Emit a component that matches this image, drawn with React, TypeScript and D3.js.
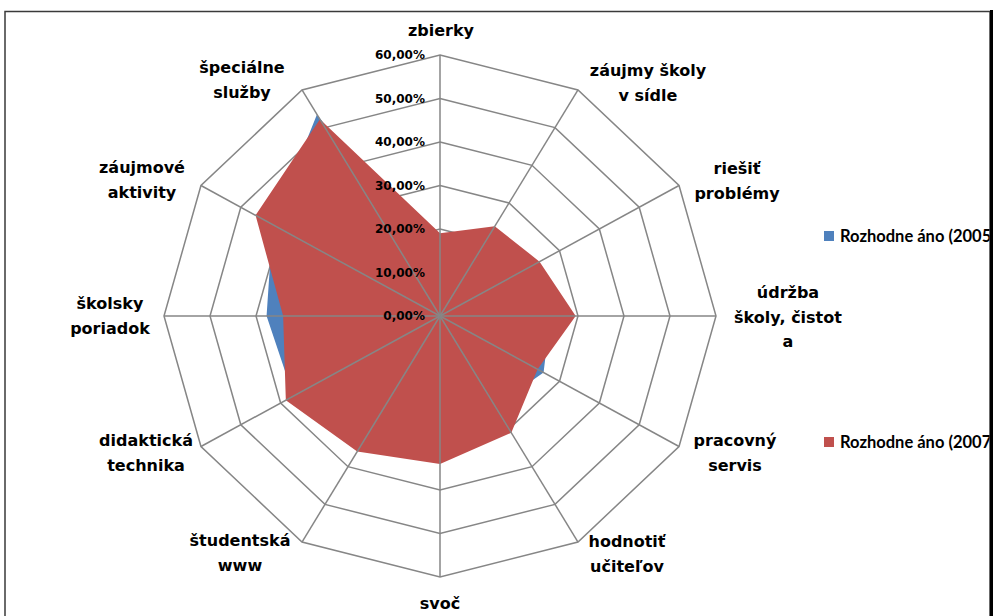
import * as d3 from "d3";

// axis categories, clockwise from the top
const categories = [
  "zbierky",
  "záujmy školy v sídle",
  "riešiť problémy",
  "údržba školy, čistota",
  "pracovný servis",
  "hodnotiť učiteľov",
  "svoč",
  "študentská www",
  "didaktická technika",
  "školsky poriadok",
  "záujmové aktivity",
  "špeciálne služby",
];

// how the category labels wrap in the chart
const labelLines = [
  ["zbierky"],
  ["záujmy školy", "v sídle"],
  ["riešiť", "problémy"],
  ["údržba", "školy, čistot", "a"],
  ["pracovný", "servis"],
  ["hodnotiť", "učiteľov"],
  ["svoč"],
  ["študentská", "www"],
  ["didaktická", "technika"],
  ["školsky", "poriadok"],
  ["záujmové", "aktivity"],
  ["špeciálne", "služby"],
];

const seriesNames = ["Rozhodne áno (2005)", "Rozhodne áno (2007)"];
const values2005 = [0.1, 0.18, 0.2, 0.24, 0.26, 0.24, 0.28, 0.3, 0.368, 0.377, 0.42, 0.535];
const values2007 = [0.19, 0.238, 0.25, 0.295, 0.245, 0.31, 0.34, 0.36, 0.387, 0.341, 0.463, 0.522];
const ticks = [0, 0.1, 0.2, 0.3, 0.4, 0.5, 0.6];

// label anchor positions (centre of first line)
const labelPos: [number, number][] = [
  [441, 30], [648, 70], [737, 168], [788, 292], [735, 440], [627, 541],
  [440, 603], [240, 540], [146, 440], [110, 303], [142, 167], [242, 67],
];

const W = 994;
const H = 616;
const cx = 440;
const cy = 316;
const colors = ["#4F81BD", "#C0504D"];
const gridColor = "#868686";

export default function App() {
  // the source picture is a bit wider than tall, so x and y radii differ
  const rx = d3.scaleLinear().domain([0, 0.6]).range([0, 276]);
  const ry = d3.scaleLinear().domain([0, 0.6]).range([0, 261]);
  const angle = d3.scaleLinear().domain([0, categories.length]).range([0, 2 * Math.PI]);

  const pt = (i: number, v: number): [number, number] => {
    const a = angle(i);
    return [cx + rx(v) * Math.sin(a), cy - ry(v) * Math.cos(a)];
  };

  const closed = d3.line().curve(d3.curveLinearClosed);
  const fmt = (t: number) => d3.format(".2f")(t * 100).replace(".", ",") + "%";

  const series = [values2005, values2007];
  const legendY = [236, 442];

  return (
    <svg
      width={W}
      height={H}
      style={{ position: "absolute", left: 0, top: 0, background: "#fff" }}
    >
      <defs>
        <clipPath id="frameClip">
          <rect x={0} y={0} width={990} height={H} />
        </clipPath>
      </defs>

      {/* grid rings */}
      {ticks.slice(1).map((t) => (
        <path
          key={t}
          d={closed(categories.map((_, i) => pt(i, t))) || ""}
          fill="none"
          stroke={gridColor}
          strokeWidth={1.5}
        />
      ))}

      {/* series areas, 2005 first so 2007 sits on top */}
      {series.map((vals, s) => (
        <path
          key={s}
          d={closed(vals.map((v, i) => pt(i, v))) || ""}
          fill={colors[s]}
        />
      ))}

      {/* spokes */}
      {categories.map((c, i) => {
        const [x, y] = pt(i, 0.6);
        return (
          <line key={c} x1={cx} y1={cy} x2={x} y2={y} stroke={gridColor} strokeWidth={1.5} />
        );
      })}

      {/* value ticks */}
      {ticks.map((t) => (
        <text
          key={t}
          x={425}
          y={cy - ry(t)}
          textAnchor="end"
          dominantBaseline="central"
          fontFamily="DejaVu Sans"
          fontWeight="bold"
          fontSize={12}
          fill="#000"
        >
          {fmt(t)}
        </text>
      ))}

      {/* category labels */}
      {labelLines.map((lines, i) => (
        <text
          key={categories[i]}
          x={labelPos[i][0]}
          y={labelPos[i][1]}
          textAnchor="middle"
          dominantBaseline="central"
          fontFamily="DejaVu Sans"
          fontWeight="bold"
          fontSize={16}
          fill="#000"
        >
          {lines.map((l, k) => (
            <tspan key={k} x={labelPos[i][0]} dy={k === 0 ? 0 : 24.5}>
              {l}
            </tspan>
          ))}
        </text>
      ))}

      {/* legend, cut off by the right edge of the frame */}
      <g clipPath="url(#frameClip)">
        {seriesNames.map((name, s) => (
          <g key={name}>
            <rect x={824} y={legendY[s] - 5} width={10} height={10} fill={colors[s]} />
            <text
              x={840}
              y={legendY[s]}
              dominantBaseline="central"
              fontFamily="Lato"
              fontWeight="bold"
              fontSize={16.5}
              fill="#000"
            >
              {name}
            </text>
          </g>
        ))}
      </g>

      {/* frame */}
      <rect x={5} y={11.5} width={985} height={H + 20} fill="none" stroke="#3a3a3a" strokeWidth={1.5} />
      <line x1={991.5} y1={10} x2={991.5} y2={H} stroke="#000" strokeWidth={3} />
    </svg>
  );
}
